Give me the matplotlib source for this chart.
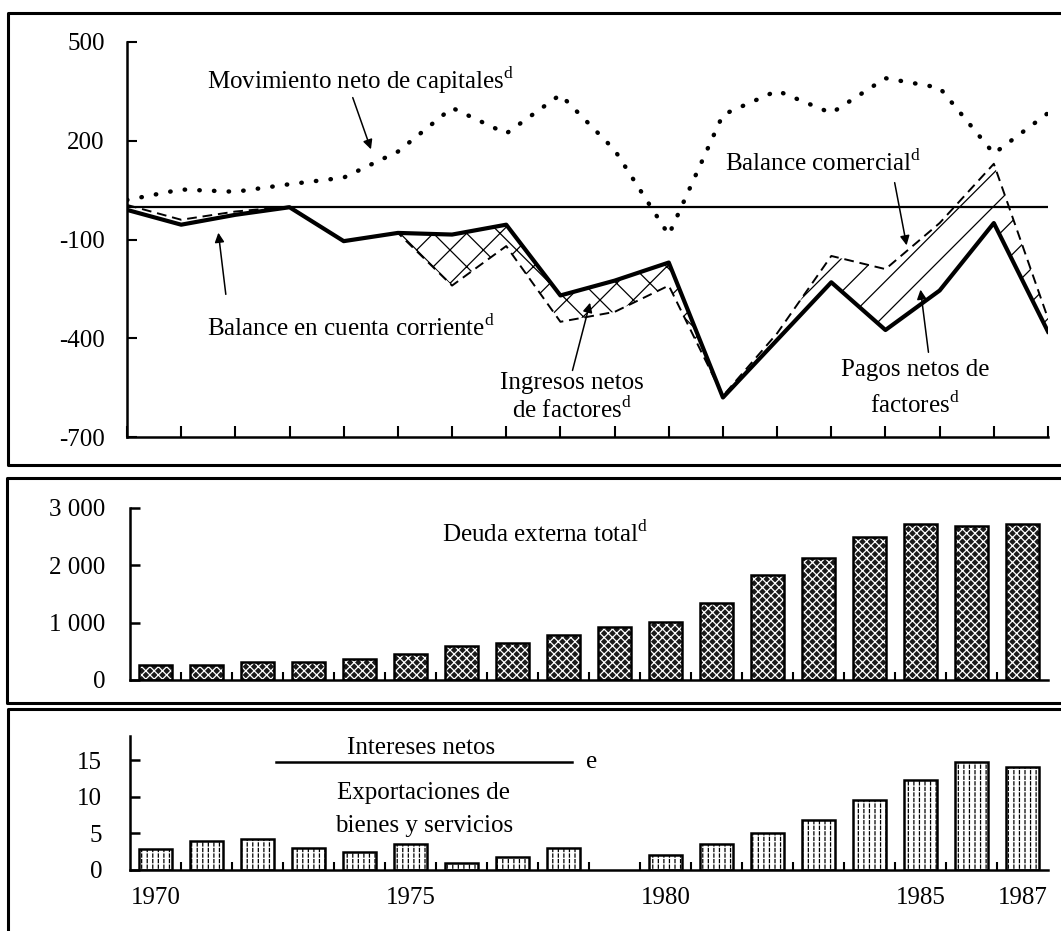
import numpy as np
import matplotlib
matplotlib.use("Agg")
import matplotlib.pyplot as plt
from matplotlib.lines import Line2D

plt.rcParams['font.family'] = ['Liberation Serif', 'DejaVu Serif']
plt.rcParams['mathtext.fontset'] = 'custom'
plt.rcParams['mathtext.rm'] = 'Liberation Serif'
plt.rcParams['hatch.linewidth'] = 0.9

years = np.arange(1970, 1988)

# millones de dolares
current_account = [-10, -55, -25, -2, -105, -80, -85, -55, -270, -225, -170,
                   -580, -405, -230, -375, -255, -50, -380]
trade_balance = [5, -40, -15, 0, -105, -80, -240, -120, -350, -320, -240,
                 -575, -385, -150, -190, -50, 130, -340]
capital_flow = [20, 52, 45, 68, 88, 167, 300, 222, 340, 172, -86,
                279, 352, 284, 390, 361, 161, 284]

external_debt = [265, 265, 315, 315, 370, 450, 595, 645, 785, 920, 1020,
                 1350, 1840, 2120, 2500, 2720, 2680, 2720]

# intereses netos / exportaciones (%)
interest_ratio = [2.9, 4.0, 4.2, 3.0, 2.4, 3.5, 0.9, 1.8, 3.0, np.nan, 2.0,
                  3.5, 5.1, 6.8, 9.5, 12.3, 14.8, 14.1]

x_labels = [1970, 1975, 1980, 1985, 1987]

W, H = 1061, 931
fig = plt.figure(figsize=(W / 100, H / 100), dpi=100)


def box(left, top, right, bottom):
    return [left / W, 1 - bottom / H, (right - left) / W, (bottom - top) / H]


FS = 18

# ---------------- panel 1: balances ----------------
ax1 = fig.add_axes(box(127, 42, 1048, 437))
ax1.set_xlim(1970, 1987)
ax1.set_ylim(-700, 500)
ca = np.array(current_account, dtype=float)
tb = np.array(trade_balance, dtype=float)
ax1.fill_between(years, ca, tb, where=(tb < ca), interpolate=True,
                 facecolor='none', edgecolor='black', hatch='x', linewidth=0)
ax1.fill_between(years, ca, tb, where=(tb > ca) & (years >= 1981), interpolate=True,
                 facecolor='none', edgecolor='black', hatch='/', linewidth=0)
ax1.axhline(0, color='black', lw=1.6)
ax1.plot(years, tb, color='black', lw=1.4, ls=(0, (5, 3)))
ax1.plot(years, ca, color='black', lw=3)
ax1.plot(years, capital_flow, color='black', lw=3.2, ls=(0, (0.1, 3.2)),
         dash_capstyle='round')

ax1.set_yticks([500, 200, -100, -400, -700])
ax1.set_yticklabels(['500', '200', '-100', '-400', '-700'])
ax1.set_xticks(years)
ax1.set_xticklabels([])
ax1.tick_params(axis='both', direction='in', length=7, width=1.5, labelsize=FS, pad=16)
ax1.tick_params(axis='x', length=8)
for s in ['top', 'right']:
    ax1.spines[s].set_visible(False)
for s in ['left', 'bottom']:
    ax1.spines[s].set_linewidth(1.8)

arrow = dict(arrowstyle='-|>', color='black', lw=1.1, mutation_scale=14)
ax1.annotate('', xy=(1974.52, 166), xytext=(1974.15, 339), arrowprops=arrow)
ax1.text(1971.48, 384, r'Movimiento neto de capitales$^{\mathrm{d}}$', fontsize=FS, va='center')
ax1.annotate('', xy=(1971.68, -71), xytext=(1971.83, -275), arrowprops=arrow)
ax1.text(1971.48, -369, r'Balance en cuenta corriente$^{\mathrm{d}}$', fontsize=FS, va='center')
ax1.annotate('', xy=(1984.4, -126), xytext=(1984.16, 81), arrowprops=arrow)
ax1.text(1981.04, 132, r'Balance comercial$^{\mathrm{d}}$', fontsize=FS, va='center')
ax1.annotate('', xy=(1978.56, -284), xytext=(1978.21, -506), arrowprops=arrow)
ax1.text(1978.21, -536, 'Ingresos netos', fontsize=FS, ha='center', va='center')
ax1.text(1978.21, -618, r'de factores$^{\mathrm{d}}$', fontsize=FS, ha='center', va='center')
ax1.annotate('', xy=(1984.64, -244), xytext=(1984.8, -451), arrowprops=arrow)
ax1.text(1984.55, -496, 'Pagos netos de', fontsize=FS, ha='center', va='center')
ax1.text(1984.55, -603, r'factores$^{\mathrm{d}}$', fontsize=FS, ha='center', va='center')

# ---------------- panel 2: deuda ----------------
ax2 = fig.add_axes(box(130, 508, 1048, 680))
ax2.set_xlim(1969.5, 1987.5)
ax2.set_ylim(0, 3000)
ax2.bar(years, external_debt, width=0.66, color='#1a1a1a', edgecolor='white',
        hatch='xxxx', linewidth=0)
ax2.bar(years, external_debt, width=0.66, fill=False, edgecolor='black', linewidth=1.8)
ax2.set_yticks([0, 1000, 2000, 3000])
ax2.set_yticklabels(['0', '1 000', '2 000', '3 000'])
ax2.set_xticks(years[:-1] + 0.5, minor=True)
ax2.set_xticks([])
ax2.tick_params(axis='y', direction='in', length=7, width=1.8, labelsize=FS, pad=18)
ax2.tick_params(axis='x', which='minor', direction='in', length=6, width=1.5)
for s in ['top', 'right']:
    ax2.spines[s].set_visible(False)
for s in ['left', 'bottom']:
    ax2.spines[s].set_linewidth(1.8)
ax2.text(1977.64, 2546, r'Deuda externa total$^{\mathrm{d}}$', fontsize=FS, ha='center', va='center')

# ---------------- panel 3: intereses / exportaciones ----------------
ax3 = fig.add_axes(box(130, 736, 1048, 870))
ax3.set_xlim(1969.5, 1987.5)
ax3.set_ylim(0, 18.3)
ax3.bar(years, interest_ratio, width=0.66, color='white', edgecolor='black',
        hatch='|||', linewidth=0)
ax3.bar(years, interest_ratio, width=0.66, fill=False, edgecolor='white',
        hatch='---', linewidth=0)
ax3.bar(years, interest_ratio, width=0.66, fill=False, edgecolor='black', linewidth=1.8)
ax3.set_yticks([0, 5, 10, 15])
ax3.set_xticks(x_labels)
ax3.set_xticklabels([str(v) for v in x_labels])
ax3.set_xticks(years[:-1] + 0.5, minor=True)
ax3.tick_params(axis='y', direction='in', length=7, width=1.8, labelsize=FS, pad=20)
ax3.tick_params(axis='x', which='major', length=0, labelsize=FS, pad=12)
ax3.tick_params(axis='x', which='minor', direction='in', length=6, width=1.5)
for s in ['top', 'right']:
    ax3.spines[s].set_visible(False)
for s in ['left', 'bottom']:
    ax3.spines[s].set_linewidth(1.8)
ax3.text(1975.21, 16.6, 'Intereses netos', fontsize=FS, ha='center', va='center')
ax3.plot([1972.36, 1978.17], [14.7, 14.7], color='black', lw=1.8, clip_on=False)
ax3.text(1978.45, 14.7, 'e', fontsize=FS, ha='left', va='center')
ax3.text(1975.26, 10.5, 'Exportaciones de', fontsize=FS, ha='center', va='center')
ax3.text(1975.26, 6.0, 'bienes y servicios', fontsize=FS, ha='center', va='center')

# ---------------- marcos de los paneles ----------------
def frame_line(xs, ys):
    fig.add_artist(Line2D([x / W for x in xs], [1 - y / H for y in ys],
                          color='black', lw=2.2))


frame_line([1061, 8, 8, 1061], [13, 13, 465, 465])
frame_line([1061, 7, 7, 1061], [478, 478, 703, 703])
frame_line([1061, 8, 8], [709, 709, 931])

fig.savefig('out.png', dpi=100)
